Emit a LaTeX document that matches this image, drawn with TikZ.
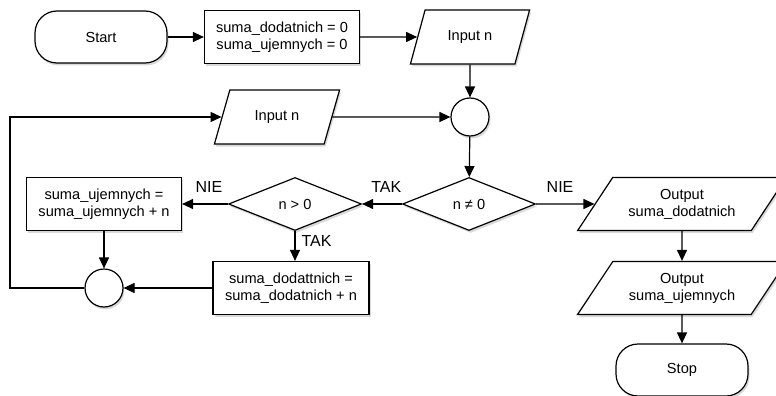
\documentclass[tikz,border=0pt]{standalone}
\usepackage{fontspec}
\setmainfont{Liberation Sans}
\usetikzlibrary{shapes.geometric, arrows.meta, shadows}

\begin{document}
\begin{tikzpicture}[x=1pt, y=-1pt, line width=1.2pt,
    font=\fontsize{14.6}{17}\selectfont,
    shadowed/.style={drop shadow={shadow xshift=1.5pt, shadow yshift=-2.5pt, opacity=0.3}},
    term/.style={rectangle, rounded corners=22pt, draw, fill=white, shadowed, minimum width=132pt, minimum height=52pt},
    proc/.style={rectangle, draw, fill=white, shadowed, minimum width=155pt, minimum height=53pt, align=center},
    io/.style={trapezium, trapezium left angle=67, trapezium right angle=113, trapezium stretches=true,
      draw, fill=white, shadowed, minimum width=120pt, minimum height=54pt, align=center},
    outp/.style={io, trapezium left angle=52, trapezium right angle=128, minimum width=209pt, minimum height=53pt},
    dec/.style={diamond, aspect=2.5, draw, fill=white, shadowed, minimum width=133pt, minimum height=53pt, inner sep=0pt},
    junction/.style={circle, draw, fill=white, shadowed, minimum size=38pt, inner sep=0pt},
    lbl/.style={font=\fontsize{16}{18}\selectfont, inner sep=0pt},
    flow/.style={-{Triangle[length=11pt, width=10pt]}}]
  \useasboundingbox (0,0) rectangle (776,396);

  \node[term] (start) at (101,37) {Start};
  \node[proc] (init) at (282,37) {suma\_dodatnich = 0\\suma\_ujemnych = 0};
  \node[io] (inA) at (470,37) {Input n};
  \node[junction] (joinA) at (470,117) {};
  \node[io, minimum width=126pt] (inB) at (277,117) {Input n};
  \node[dec] (nz) at (469,204) {n ≠ 0};
  \node[dec] (pos) at (295,204) {n > 0};
  \node[proc] (addneg) at (104,204) {suma\_ujemnych =\\suma\_ujemnych + n};
  \node[proc, minimum width=156pt] (addpos) at (291,288) {suma\_dodattnich =\\suma\_dodatnich + n};
  \node[junction] (joinB) at (104,288) {};
  \node[outp] (outA) at (682,204) {Output\\suma\_dodatnich};
  \node[outp] (outB) at (682,288) {Output\\suma\_ujemnych};
  \node[term] (stop) at (682,370) {Stop};
  \coordinate (rail) at (10,0);

  % main line
  \draw[flow] (start) -- (init);
  \draw[flow] (init) -- (inA);
  \draw[flow] (inA) -- (joinA);
  \draw[flow] (joinA) -- (nz);
  \draw[flow] (nz) -- node[lbl, pos=0, anchor=south east, yshift=11pt] {TAK} (pos);
  \draw[flow] (nz) -- node[lbl, pos=0, anchor=south west, xshift=10pt, yshift=11pt] {NIE} (outA);
  \draw[flow] (outA) -- (outB);
  \draw[flow] (outB) -- (stop);

  % loop
  \draw[flow] (pos) -- node[lbl, pos=0, anchor=south east, xshift=-5pt, yshift=11pt] {NIE} (addneg);
  \draw[flow] (pos.south) -- node[lbl, pos=0, anchor=north west, xshift=6pt, yshift=-4pt] {TAK} (pos.south |- addpos.north);
  \draw[flow] (addneg) -- (joinB);
  \draw[flow] (addpos) -- (joinB);
  \draw[flow] (joinB.west) -- (joinB.west -| rail) |- (inB.west);
  \draw[flow] (inB) -- (joinA);
\end{tikzpicture}
\end{document}
